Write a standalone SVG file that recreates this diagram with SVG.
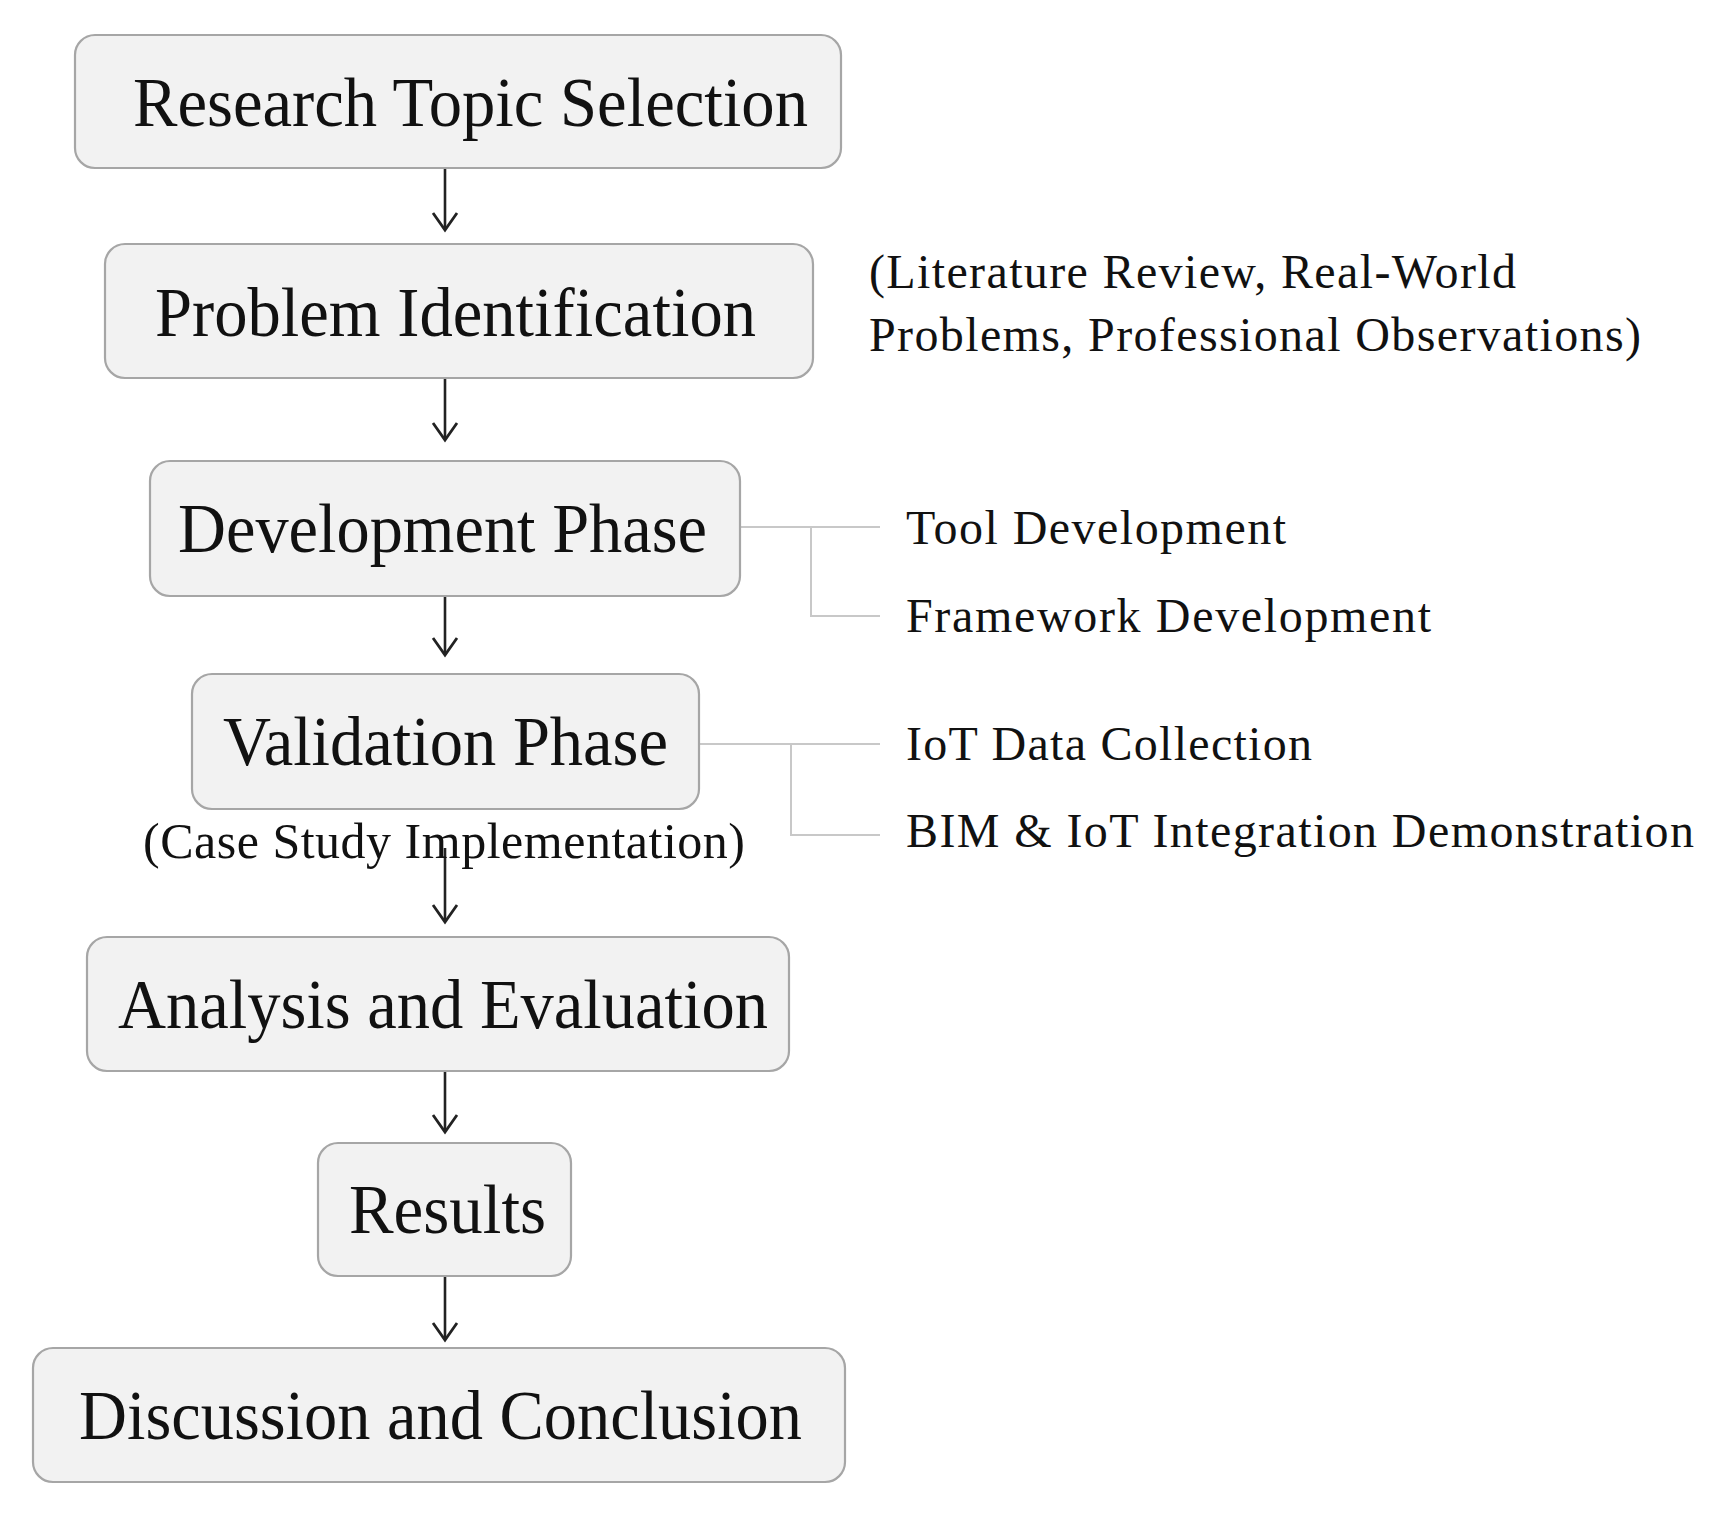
<svg xmlns="http://www.w3.org/2000/svg" width="1735" height="1528" viewBox="0 0 1735 1528">
<style>
.box{fill:#f2f2f2;stroke:#a6a6a6;stroke-width:2.2}
.t{font-family:"Liberation Serif","Times New Roman",serif;font-size:70px;fill:#111}
.s{font-family:"Liberation Serif","Times New Roman",serif;font-size:48px;fill:#111}
.arr{stroke:#222;stroke-width:2.6;fill:none}
.br{stroke:#c8c8c8;stroke-width:2;fill:none}
</style>
<defs>
<path id="ah" d="M-12,-17 L0,0 L12,-17" stroke="#222" stroke-width="2.8" fill="none"/>
</defs>
<rect width="1735" height="1528" fill="#fff"/>
<g id="connectors">
<line class="arr" x1="445" y1="168" x2="445" y2="229"/><use href="#ah" x="445" y="230"/>
<line class="arr" x1="445" y1="378" x2="445" y2="439"/><use href="#ah" x="445" y="440"/>
<line class="arr" x1="445" y1="596" x2="445" y2="654"/><use href="#ah" x="445" y="655"/>
<line class="arr" x1="445" y1="848" x2="445" y2="921"/><use href="#ah" x="445" y="922"/>
<line class="arr" x1="445" y1="1071" x2="445" y2="1131"/><use href="#ah" x="445" y="1132"/>
<line class="arr" x1="445" y1="1276" x2="445" y2="1339"/><use href="#ah" x="445" y="1340"/>
<path class="br" d="M740,527 H880 M811,527 V616 H880"/>
<path class="br" d="M699,744 H880 M791,744 V835 H880"/>
</g>
<g id="n1"><rect class="box" x="75" y="35" width="766" height="133" rx="20"/><text class="t" x="133" y="126" textLength="675" lengthAdjust="spacingAndGlyphs">Research Topic Selection</text></g>
<g id="n2"><rect class="box" x="105" y="244" width="708" height="134" rx="20"/><text class="t" x="155" y="336" textLength="601" lengthAdjust="spacingAndGlyphs">Problem Identification</text></g>
<g id="n2note"><text class="s" x="869" y="288" textLength="647" lengthAdjust="spacing">(Literature Review, Real-World</text><text class="s" x="869" y="351" textLength="772" lengthAdjust="spacing">Problems, Professional Observations)</text></g>
<g id="n3"><rect class="box" x="150" y="461" width="590" height="135" rx="20"/><text class="t" x="178" y="552" textLength="529" lengthAdjust="spacingAndGlyphs">Development Phase</text></g>
<g id="n3a"><text class="s" x="906" y="544" textLength="380" lengthAdjust="spacing">Tool Development</text></g>
<g id="n3b"><text class="s" x="906" y="632" textLength="525" lengthAdjust="spacing">Framework Development</text></g>
<g id="n4"><rect class="box" x="192" y="674" width="507" height="135" rx="20"/><text class="t" x="223" y="765" textLength="445" lengthAdjust="spacingAndGlyphs">Validation Phase</text></g>
<g id="n4note"><text class="t" style="font-size:50px" x="143" y="858" textLength="602" lengthAdjust="spacing">(Case Study Implementation)</text></g>
<g id="n4a"><text class="s" x="906" y="760" textLength="406" lengthAdjust="spacing">IoT Data Collection</text></g>
<g id="n4b"><text class="s" x="906" y="847" textLength="788" lengthAdjust="spacing">BIM &amp; IoT Integration Demonstration</text></g>
<g id="n5"><rect class="box" x="87" y="937" width="702" height="134" rx="20"/><text class="t" x="118" y="1028" textLength="650" lengthAdjust="spacingAndGlyphs">Analysis and Evaluation</text></g>
<g id="n6"><rect class="box" x="318" y="1143" width="253" height="133" rx="20"/><text class="t" x="349" y="1233" textLength="197" lengthAdjust="spacingAndGlyphs">Results</text></g>
<g id="n7"><rect class="box" x="33" y="1348" width="812" height="134" rx="20"/><text class="t" x="79" y="1439" textLength="723" lengthAdjust="spacingAndGlyphs">Discussion and Conclusion</text></g>
</svg>
